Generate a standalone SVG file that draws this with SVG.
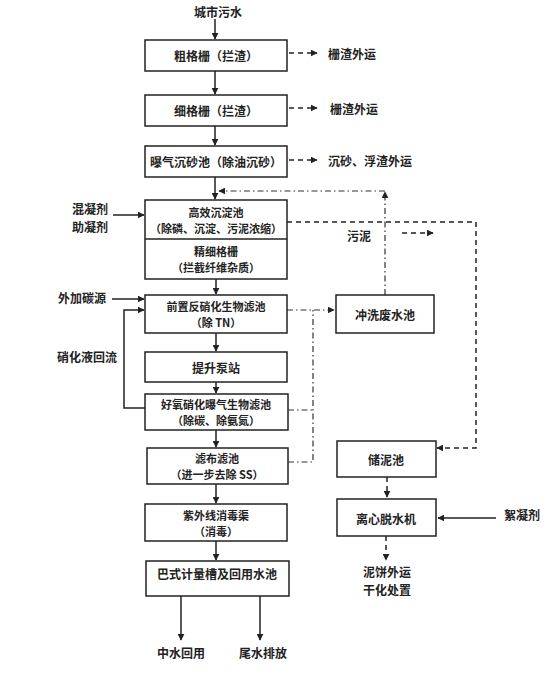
<svg xmlns="http://www.w3.org/2000/svg" width="555" height="675" viewBox="0 0 555 675">
<defs>
<style>
.box{fill:#fff;stroke:#222;stroke-width:1.5}
.t{font-family:"Noto Sans CJK SC","Noto Sans",sans-serif;font-size:12px;font-weight:bold;fill:#222;dominant-baseline:central}
.s{font-size:11px}
.c{text-anchor:middle}
.ln{fill:none;stroke:#222;stroke-width:1.5}
.da{fill:none;stroke:#222;stroke-width:1.5;stroke-dasharray:5,4}
.dd{fill:none;stroke:#333;stroke-width:1.2;stroke-dasharray:6,3,1.5,3}
</style>
<marker id="ah" viewBox="0 0 10 10" refX="9" refY="5" markerWidth="7" markerHeight="7" markerUnits="userSpaceOnUse" orient="auto">
<path d="M0,0 L10,5 L0,10 z" fill="#222"/>
</marker>
</defs>
<rect width="555" height="675" fill="#fff"/>

<g id="connectors">
<line class="ln" x1="215" y1="19" x2="215" y2="39" marker-end="url(#ah)"/>
<line class="ln" x1="215" y1="71" x2="215" y2="94" marker-end="url(#ah)"/>
<line class="ln" x1="215" y1="126" x2="215" y2="145" marker-end="url(#ah)"/>
<line class="ln" x1="215" y1="177" x2="215" y2="199" marker-end="url(#ah)"/>
<line class="ln" x1="216" y1="279" x2="216" y2="294" marker-end="url(#ah)"/>
<line class="ln" x1="216" y1="333" x2="216" y2="351" marker-end="url(#ah)"/>
<line class="ln" x1="216" y1="382" x2="216" y2="393" marker-end="url(#ah)"/>
<line class="ln" x1="216" y1="430" x2="216" y2="447" marker-end="url(#ah)"/>
<line class="ln" x1="216" y1="484" x2="216" y2="503" marker-end="url(#ah)"/>
<line class="ln" x1="216" y1="541" x2="216" y2="560" marker-end="url(#ah)"/>
<line class="ln" x1="181" y1="596" x2="181" y2="640" marker-end="url(#ah)"/>
<line class="ln" x1="260" y1="596" x2="260" y2="640" marker-end="url(#ah)"/>
<line class="da" x1="289" y1="53" x2="317" y2="53" marker-end="url(#ah)"/>
<line class="da" x1="289" y1="108" x2="317" y2="108" marker-end="url(#ah)"/>
<line class="da" x1="289" y1="160" x2="317" y2="160" marker-end="url(#ah)"/>
<line class="ln" x1="113" y1="215" x2="144" y2="215" marker-end="url(#ah)"/>
<line class="ln" x1="112" y1="299" x2="144" y2="299" marker-end="url(#ah)"/>
<polyline class="ln" points="145,408 124,408 124,310 144,310" marker-end="url(#ah)"/>
<line class="dd" x1="287" y1="310" x2="334" y2="310" marker-end="url(#ah)"/>
<polyline class="dd" points="288,410 313,410"/>
<polyline class="dd" points="288,462 313,462 313,310"/>
<line class="dd" x1="385" y1="295" x2="385" y2="192" marker-end="url(#ah)"/>
<line class="dd" x1="385" y1="191" x2="219" y2="191" marker-end="url(#ah)"/>
<polyline class="da" points="287,222 476,222 476,448 437,448" marker-end="url(#ah)"/>
<line class="da" x1="402" y1="233" x2="433" y2="233" marker-end="url(#ah)"/>
<line class="da" x1="387" y1="477" x2="387" y2="497" marker-end="url(#ah)"/>
<line class="ln" x1="496" y1="518" x2="438" y2="518" marker-end="url(#ah)"/>
<line class="da" x1="386" y1="536" x2="386" y2="560" marker-end="url(#ah)"/>
</g>

<g id="n-source"><text class="t c" x="218" y="11">城市污水</text></g>

<g id="n-coarse">
<rect class="box" x="145" y="40" width="142" height="31"/>
<text class="t c" x="216" y="55.5">粗格栅（拦渣）</text>
</g>
<g id="n-coarse-out"><text class="t" x="328" y="53">栅渣外运</text></g>

<g id="n-fine">
<rect class="box" x="145" y="95" width="142" height="31"/>
<text class="t c" x="216" y="110.5">细格栅（拦渣）</text>
</g>
<g id="n-fine-out"><text class="t" x="330" y="108">栅渣外运</text></g>

<g id="n-grit">
<rect class="box" x="145" y="146" width="142" height="31"/>
<text class="t c" x="216" y="161.5">曝气沉砂池（除油沉砂）</text>
</g>
<g id="n-grit-out"><text class="t" x="328" y="160">沉砂、浮渣外运</text></g>

<g id="n-coag">
<text class="t" x="72" y="208">混凝剂</text>
<text class="t" x="72" y="226">助凝剂</text>
</g>

<g id="n-hes">
<rect class="box" x="145" y="200" width="142" height="79"/>
<line class="ln" x1="145" y1="239" x2="287" y2="239"/>
<text class="t s c" x="216" y="211.5">高效沉淀池</text>
<text class="t s c" x="216" y="227.5">（除磷、沉淀、污泥浓缩）</text>
<text class="t s c" x="216" y="250.5">精细格栅</text>
<text class="t s c" x="216" y="266.5">（拦截纤维杂质）</text>
</g>

<g id="n-sludge-label"><text class="t" x="347" y="235">污泥</text></g>

<g id="n-carbon"><text class="t" x="58" y="297">外加碳源</text></g>
<g id="n-recirc"><text class="t" x="57" y="356">硝化液回流</text></g>

<g id="n-denit">
<rect class="box" x="145" y="295" width="142" height="38"/>
<text class="t s c" x="216" y="306">前置反硝化生物滤池</text>
<text class="t s c" x="216" y="322">（除 TN）</text>
</g>

<g id="n-backwash">
<rect class="box" x="336" y="295" width="98" height="38"/>
<text class="t c" x="385" y="314">冲洗废水池</text>
</g>

<g id="n-pump">
<rect class="box" x="145" y="352" width="142" height="30"/>
<text class="t c" x="216" y="367">提升泵站</text>
</g>

<g id="n-baf">
<rect class="box" x="145" y="394" width="143" height="36"/>
<text class="t s c" x="216" y="404">好氧硝化曝气生物滤池</text>
<text class="t s c" x="216" y="420">（除碳、除氨氮）</text>
</g>

<g id="n-cloth">
<rect class="box" x="147" y="448" width="141" height="36"/>
<text class="t s c" x="217" y="458">滤布滤池</text>
<text class="t s c" x="217" y="474">（进一步去除 SS）</text>
</g>

<g id="n-storage">
<rect class="box" x="337" y="441" width="99" height="36"/>
<text class="t c" x="386" y="459">储泥池</text>
</g>

<g id="n-centrifuge">
<rect class="box" x="337" y="499" width="99" height="37"/>
<text class="t c" x="386" y="518">离心脱水机</text>
</g>

<g id="n-floc"><text class="t" x="504" y="514">絮凝剂</text></g>

<g id="n-cake">
<text class="t c" x="387" y="571">泥饼外运</text>
<text class="t c" x="387" y="589">干化处置</text>
</g>

<g id="n-uv">
<rect class="box" x="145" y="504" width="142" height="37"/>
<text class="t s c" x="216" y="514.5">紫外线消毒渠</text>
<text class="t s c" x="216" y="530.5">（消毒）</text>
</g>

<g id="n-parshall">
<rect class="box" x="146" y="561" width="143" height="35"/>
<text class="t c" x="217" y="573">巴式计量槽及回用水池</text>
</g>

<g id="n-reuse"><text class="t c" x="181" y="652">中水回用</text></g>
<g id="n-discharge"><text class="t c" x="263" y="652">尾水排放</text></g>
</svg>
